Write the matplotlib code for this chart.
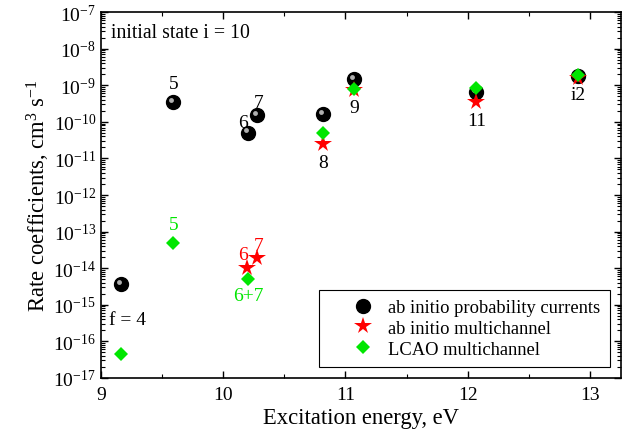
import numpy as np
import matplotlib
matplotlib.use('Agg')
import matplotlib.pyplot as plt
import matplotlib.transforms as mtrans
from matplotlib.ticker import LogLocator, LogFormatterMathtext, MultipleLocator

plt.rcParams['font.family'] = 'Liberation Serif'
plt.rcParams['mathtext.fontset'] = 'custom'
plt.rcParams['mathtext.rm'] = 'Liberation Serif'
plt.rcParams['mathtext.it'] = 'Liberation Serif:italic'

# ab initio probability currents
pc_x = [9.167, 9.594, 10.207, 10.275, 10.82, 11.07, 12.07, 12.90]
pc_y = [3.7e-15, 3.4e-10, 5.1e-11, 1.55e-10, 1.6e-10, 1.48e-9, 6.4e-10, 1.8e-9]
# ab initio multichannel
mc_x = [10.198, 10.275, 10.82, 11.07, 12.07, 12.90]
mc_y = [1.0e-14, 1.85e-14, 2.45e-11, 7.5e-10, 3.5e-10, 1.6e-9]
# LCAO multichannel
lc_x = [9.167, 9.594, 10.207, 10.82, 11.07, 12.07, 12.90]
lc_y = [4.6e-17, 4.8e-14, 4.9e-15, 5.1e-11, 7.9e-10, 8.7e-10, 1.9e-9]

green = '#00e600'

fig = plt.figure(figsize=(6.38, 4.39), dpi=100)
ax = fig.add_axes([0.158, 0.137, 0.815, 0.833])

# шарики: чёрный круг + светлый блик
ax.plot(pc_x, pc_y, 'o', color='black', markersize=10, zorder=3)
hl = mtrans.offset_copy(ax.transData, fig=fig, x=-1.5, y=1.5, units='points')
ax.plot(pc_x, pc_y, 'o', color='#b0b0b0', markersize=3.5, markeredgewidth=0,
        transform=hl, zorder=3.5)
ax.plot(mc_x, mc_y, '*', color='red', markersize=13, markeredgewidth=0, zorder=4)
ax.plot(lc_x, lc_y, 'D', color=green, markersize=7, markeredgewidth=0, zorder=5)

# legend proxies
h1, = ax.plot([], [], 'o', color='black', markersize=10)
h2, = ax.plot([], [], '*', color='red', markersize=13, markeredgewidth=0)
h3, = ax.plot([], [], 'D', color=green, markersize=7, markeredgewidth=0)
leg = ax.legend([h1, h2, h3], ['ab initio probability currents',
                               'ab initio multichannel', 'LCAO multichannel'],
                loc='lower right', fontsize=13.3, fancybox=False, framealpha=1,
                edgecolor='black', borderaxespad=0.6, handletextpad=-0.55,
                labelspacing=0.2, borderpad=0.5, handlelength=3.8)
leg.get_frame().set_linewidth(0.8)

fs = 14
ax.text(9.594, 6.5e-10, '5', ha='center', va='bottom', fontsize=fs)
ax.text(10.16, 5.5e-11, '6', ha='center', va='bottom', fontsize=fs)
ax.text(10.29, 2.0e-10, '7', ha='center', va='bottom', fontsize=fs)
ax.text(10.82, 1.3e-11, '8', ha='center', va='top', fontsize=fs)
ax.text(11.07, 4.2e-10, '9', ha='center', va='top', fontsize=fs)
ax.text(12.07, 1.9e-10, '11', ha='center', va='top', fontsize=fs)
ax.text(12.90, 9.5e-10, 'i2', ha='center', va='top', fontsize=fs)
ax.text(9.07, 2.3e-16, 'f = 4', ha='left', va='bottom', fontsize=fs)
ax.text(9.594, 9.0e-14, '5', ha='center', va='bottom', fontsize=fs, color=green)
ax.text(10.165, 1.35e-14, '6', ha='center', va='bottom', fontsize=fs, color='red')
ax.text(10.29, 2.4e-14, '7', ha='center', va='bottom', fontsize=fs, color='red')
ax.text(10.207, 3.0e-15, '6+7', ha='center', va='top', fontsize=fs, color=green)
ax.text(0.02, 0.97, 'initial state i = 10', transform=ax.transAxes,
        ha='left', va='top', fontsize=14.2)

ax.set_yscale('log')
ax.set_xlim(9, 13.25)
ax.set_ylim(1e-17, 1e-7)
ax.xaxis.set_major_locator(MultipleLocator(1))
ax.xaxis.set_minor_locator(MultipleLocator(0.5))
ax.yaxis.set_major_locator(LogLocator(base=10, numticks=20))
ax.yaxis.set_minor_locator(LogLocator(base=10, subs=np.arange(2, 10), numticks=20))
ax.yaxis.set_major_formatter(LogFormatterMathtext())
ax.tick_params(which='both', direction='in', top=True, right=True, labelsize=14)
ax.tick_params(which='major', length=5, width=1)
ax.tick_params(which='minor', length=3, width=0.8)
ax.tick_params(axis='x', pad=6)
for s in ax.spines.values():
    s.set_linewidth(1.2)

ax.set_xlabel('Excitation energy, eV', fontsize=16.3, labelpad=3)
ax.set_ylabel(r'Rate coefficients, cm$^{3}$ s$^{-1}$', fontsize=16.3, labelpad=1)

fig.savefig('out.png', dpi=100)
